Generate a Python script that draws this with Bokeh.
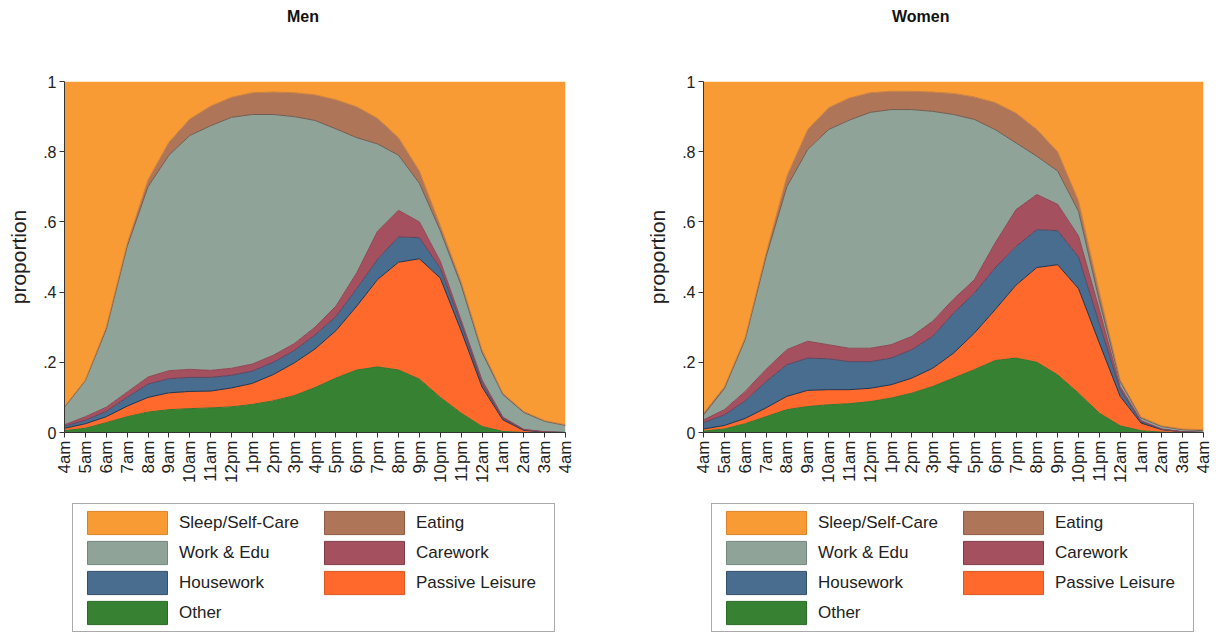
import math
from bokeh.plotting import figure
from bokeh.models import (ColumnDataSource, FixedTicker, Legend, LegendItem, Range1d, Div)
from bokeh.layouts import row, column
from bokeh.embed import file_html
from bokeh.resources import INLINE

# ---------------- data ----------------
hours = list(range(25))  # 0 = 4am ... 24 = 4am next day
hour_labels = ["4am", "5am", "6am", "7am", "8am", "9am", "10am", "11am", "12pm",
               "1pm", "2pm", "3pm", "4pm", "5pm", "6pm", "7pm", "8pm", "9pm",
               "10pm", "11pm", "12am", "1am", "2am", "3am", "4am"]
y_ticks = [0, 0.2, 0.4, 0.6, 0.8, 1.0]
y_tick_labels = ["0", ".2", ".4", ".6", ".8", "1"]

# stacking order, bottom -> top
keys = ["other", "passive", "housework", "carework", "work", "eating", "sleep"]
labels = {"other": "Other", "passive": "Passive Leisure", "housework": "Housework",
          "carework": "Carework", "work": "Work & Edu", "eating": "Eating",
          "sleep": "Sleep/Self-Care"}
legend_order = ["sleep", "work", "housework", "other", "eating", "carework", "passive"]

men_other = [0.005, 0.012, 0.028, 0.045, 0.058, 0.065, 0.068, 0.070, 0.073, 0.080, 0.090, 0.105, 0.128,
             0.155, 0.178, 0.187, 0.178, 0.152, 0.100, 0.055, 0.017, 0.003, 0.000, 0.000, 0.000]
men_passive = [0.007, 0.013, 0.017, 0.030, 0.042, 0.048, 0.049, 0.048, 0.054, 0.060, 0.075, 0.093, 0.110,
               0.135, 0.182, 0.249, 0.307, 0.343, 0.340, 0.235, 0.113, 0.033, 0.006, 0.001, 0.000]
men_housework = [0.006, 0.010, 0.015, 0.025, 0.038, 0.040, 0.040, 0.039, 0.036, 0.035, 0.035, 0.035, 0.040,
                 0.040, 0.050, 0.058, 0.072, 0.060, 0.028, 0.020, 0.010, 0.004, 0.002, 0.001, 0.000]
men_carework = [0.004, 0.010, 0.012, 0.015, 0.020, 0.023, 0.023, 0.020, 0.020, 0.020, 0.020, 0.020, 0.022,
                0.030, 0.045, 0.080, 0.076, 0.045, 0.020, 0.010, 0.010, 0.004, 0.001, 0.000, 0.000]
men_work = [0.050, 0.103, 0.222, 0.415, 0.542, 0.614, 0.666, 0.697, 0.715, 0.711, 0.686, 0.647, 0.589,
            0.505, 0.385, 0.248, 0.157, 0.110, 0.087, 0.100, 0.078, 0.064, 0.048, 0.030, 0.020]
men_eating = [0.002, 0.002, 0.006, 0.008, 0.020, 0.037, 0.047, 0.056, 0.057, 0.062, 0.064, 0.068, 0.073,
              0.083, 0.088, 0.073, 0.050, 0.035, 0.015, 0.010, 0.008, 0.004, 0.003, 0.002, 0.002]
men_sleep = [0.926, 0.850, 0.700, 0.462, 0.280, 0.173, 0.107, 0.070, 0.045, 0.032, 0.030, 0.032, 0.038,
             0.052, 0.072, 0.105, 0.160, 0.255, 0.410, 0.570, 0.764, 0.888, 0.940, 0.966, 0.978]

women_other = [0.004, 0.010, 0.025, 0.045, 0.065, 0.074, 0.079, 0.082, 0.088, 0.098, 0.112, 0.131, 0.155,
               0.179, 0.205, 0.212, 0.200, 0.164, 0.112, 0.055, 0.019, 0.005, 0.001, 0.000, 0.000]
women_passive = [0.006, 0.010, 0.015, 0.025, 0.038, 0.046, 0.043, 0.040, 0.038, 0.038, 0.043, 0.052, 0.071,
                 0.104, 0.145, 0.208, 0.270, 0.314, 0.298, 0.200, 0.084, 0.022, 0.007, 0.002, 0.000]
women_housework = [0.018, 0.030, 0.050, 0.075, 0.090, 0.092, 0.088, 0.080, 0.076, 0.076, 0.081, 0.091, 0.114,
                   0.114, 0.119, 0.110, 0.108, 0.097, 0.090, 0.055, 0.019, 0.004, 0.001, 0.000, 0.000]
women_carework = [0.008, 0.015, 0.027, 0.035, 0.043, 0.048, 0.040, 0.038, 0.038, 0.038, 0.038, 0.043, 0.040,
                  0.038, 0.071, 0.105, 0.100, 0.075, 0.060, 0.040, 0.009, 0.003, 0.001, 0.000, 0.000]
women_work = [0.014, 0.060, 0.148, 0.320, 0.464, 0.546, 0.613, 0.650, 0.672, 0.670, 0.646, 0.598, 0.526,
              0.457, 0.323, 0.190, 0.109, 0.095, 0.070, 0.025, 0.014, 0.007, 0.007, 0.006, 0.005]
women_eating = [0.005, 0.005, 0.005, 0.010, 0.030, 0.057, 0.062, 0.063, 0.056, 0.052, 0.052, 0.055, 0.060,
                0.064, 0.077, 0.085, 0.076, 0.055, 0.030, 0.025, 0.005, 0.003, 0.002, 0.002, 0.003]
women_sleep = [0.945, 0.870, 0.730, 0.490, 0.270, 0.137, 0.075, 0.047, 0.032, 0.028, 0.028, 0.030, 0.034,
               0.044, 0.060, 0.090, 0.137, 0.200, 0.340, 0.600, 0.850, 0.956, 0.981, 0.990, 0.992]

# ---------------- style ----------------
FONT = "Liberation Sans"
fill_colors = {"other": "#368232", "passive": "#FF6A2C", "housework": "#486D8E",
               "carework": "#A5505F", "work": "#8FA399", "eating": "#AF7558",
               "sleep": "#F99B34"}
edge_colors = {"other": "#2F7530", "passive": "#22324A", "housework": "#5A4560",
               "carework": "#8E4552", "work": "#6F5C50", "eating": "#C9803F"}
swatch_edges = {"other": "#2A6A28", "passive": "#D9561F", "housework": "#354F68",
                "carework": "#7F3C48", "work": "#74867D", "eating": "#8E5C43",
                "sleep": "#D9822A"}


def make_panel(name, shares, width, border_left, frame_w, title_left, legend_x):
    # ---- title ----
    title = Div(text=name, width=120, height=34, margin=(0, 0, 0, title_left),
                styles={"font-family": FONT, "font-size": "16px", "font-weight": "bold",
                        "line-height": "34px", "color": "#111111"})

    # ---- chart ----
    src = ColumnDataSource(dict(hour=hours, **shares))
    border_right = width - border_left - frame_w
    p = figure(frame_width=frame_w, frame_height=351, title=None,
               x_range=Range1d(0, 24), y_range=Range1d(0, 1),
               output_backend="svg", toolbar_location=None,
               min_border_left=border_left, min_border_right=border_right,
               min_border_top=47, min_border_bottom=71)
    p.outline_line_color = None
    p.xgrid.visible = False
    p.ygrid.visible = False

    p.varea_stack(keys, x="hour", color=[fill_colors[k] for k in keys], source=src)
    p.vline_stack(keys[:-1], x="hour", color=[edge_colors[k] for k in keys[:-1]],
                  line_width=1, source=src)

    for ax in (p.xaxis[0], p.yaxis[0]):
        ax.axis_line_color = "#333333"
        ax.major_tick_line_color = "#333333"
        ax.major_tick_out = 5
        ax.major_tick_in = 0
        ax.minor_tick_line_color = None
        ax.major_label_text_font = FONT
        ax.major_label_text_color = "#222222"

    p.xaxis.ticker = FixedTicker(ticks=hours)
    p.xaxis.major_label_overrides = {h: lab for h, lab in zip(hours, hour_labels)}
    p.xaxis.major_label_orientation = math.pi / 2
    p.xaxis.major_label_standoff = 3
    p.xaxis.major_label_text_font_size = "17px"

    p.yaxis.ticker = FixedTicker(ticks=y_ticks)
    p.yaxis.major_label_overrides = {t: lab for t, lab in zip(y_ticks, y_tick_labels)}
    p.yaxis.major_label_standoff = 3
    p.yaxis.major_label_text_font_size = "16px"
    p.yaxis.axis_label = "proportion"
    p.yaxis.axis_label_text_font = FONT
    p.yaxis.axis_label_text_font_size = "21px"
    p.yaxis.axis_label_text_font_style = "normal"
    p.yaxis.axis_label_text_color = "#222222"
    p.yaxis.axis_label_standoff = 10

    # ---- legend (its own small canvas below the chart; frame aligned with the chart) ----
    lg = figure(width=width, height=130, title=None, output_backend="svg",
                toolbar_location=None, x_range=Range1d(0, 1), y_range=Range1d(0, 1),
                x_axis_location=None, y_axis_location=None, min_border=0)
    lg.outline_line_color = None
    lg.xgrid.visible = False
    lg.ygrid.visible = False
    # hidden proxy glyphs: they only provide the legend swatch styles
    proxy = ColumnDataSource(dict(x=[0.5], y=[0.5]))
    swatches = {k: lg.rect(x="x", y="y", width=0.1, height=0.1, source=proxy,
                           fill_color=fill_colors[k], line_color=swatch_edges[k],
                           line_width=1, visible=False) for k in keys}
    items = [LegendItem(label=labels[k], renderers=[swatches[k]]) for k in legend_order]
    legend = Legend(items=items, orientation="vertical", nrows=4, location=(legend_x, 1),
                    glyph_width=100, glyph_height=29, label_width=134, label_standoff=2,
                    spacing=1, padding=4, margin=0,
                    label_text_font=FONT, label_text_font_size="17px",
                    label_text_color="#222222", label_text_baseline="middle",
                    border_line_color="#555555", border_line_width=1,
                    background_fill_color="white", background_fill_alpha=1.0,
                    inactive_fill_alpha=0.0)
    lg.add_layout(legend, "center")

    return column(title, p, lg, spacing=0)


men = dict(other=men_other, passive=men_passive, housework=men_housework, carework=men_carework,
           work=men_work, eating=men_eating, sleep=men_sleep)
women = dict(other=women_other, passive=women_passive, housework=women_housework,
             carework=women_carework, work=women_work, eating=women_eating, sleep=women_sleep)

col_men = make_panel("Men", men, 620, 64, 501, 287, 8)
col_women = make_panel("Women", women, 597, 83, 500, 272, 8)

layout = row(col_men, col_women, spacing=0)
open("out.html", "w").write(file_html(layout, INLINE, "Time use by hour"))
